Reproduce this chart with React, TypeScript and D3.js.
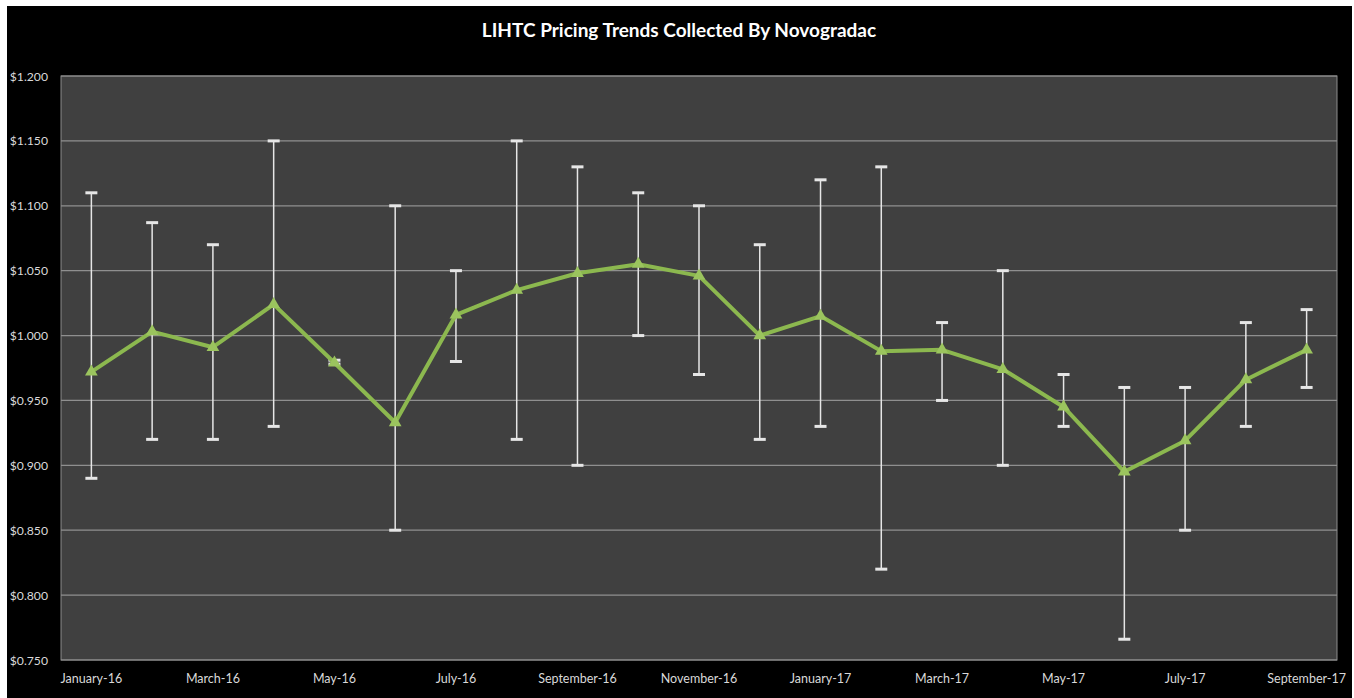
import React from "react";
import * as d3 from "d3";

// Monthly LIHTC pricing: average price per credit with the low/high range
const months = [
  "January-16", "February-16", "March-16", "April-16", "May-16", "June-16",
  "July-16", "August-16", "September-16", "October-16", "November-16", "December-16",
  "January-17", "February-17", "March-17", "April-17", "May-17", "June-17",
  "July-17", "August-17", "September-17",
];
const avgPrice = [
  0.972, 1.003, 0.991, 1.024, 0.979, 0.933,
  1.016, 1.035, 1.048, 1.055, 1.046, 1.0,
  1.015, 0.988, 0.989, 0.974, 0.945, 0.895,
  0.919, 0.966, 0.989,
];
const highPrice = [
  1.11, 1.087, 1.07, 1.15, 0.981, 1.1,
  1.05, 1.15, 1.13, 1.11, 1.1, 1.07,
  1.12, 1.13, 1.01, 1.05, 0.97, 0.96,
  0.96, 1.01, 1.02,
];
const lowPrice = [
  0.89, 0.92, 0.92, 0.93, 0.978, 0.85,
  0.98, 0.92, 0.9, 1.0, 0.97, 0.92,
  0.93, 0.82, 0.95, 0.9, 0.93, 0.766,
  0.85, 0.93, 0.96,
];
const yTicks = [0.75, 0.8, 0.85, 0.9, 0.95, 1.0, 1.05, 1.1, 1.15, 1.2];
const xLabelEvery = 2;
const title = "LIHTC Pricing Trends Collected By Novogradac";

const W = 1354;
const H = 698;
const plot = { left: 61, right: 1337, top: 76, bottom: 660 };
const FONT = "Lato, 'Open Sans', sans-serif";

export default function App() {
  const x = d3
    .scaleBand<string>()
    .domain(months)
    .range([plot.left, plot.right]);
  const y = d3
    .scaleLinear()
    .domain([0.75, 1.2])
    .range([plot.bottom, plot.top]);
  const cx = (m: string) => (x(m) ?? 0) + x.bandwidth() / 2;

  const line = d3
    .line<number>()
    .x((_, i) => cx(months[i]))
    .y((d) => y(d));

  const tri = d3.symbol().type(d3.symbolTriangle).size(70)() ?? "";
  const fmt = (v: number) => "$" + v.toFixed(3);
  const capHalf = 6;

  return (
    <svg
      width={W}
      height={H}
      style={{ position: "absolute", left: 0, top: 0, display: "block" }}
    >
      <rect x={0} y={0} width={W} height={H} fill="#ffffff" />
      <rect x={7} y={6} width={1345} height={H - 6} fill="#000000" />

      <text
        x={679}
        y={37}
        textAnchor="middle"
        fill="#ffffff"
        fontFamily={FONT}
        fontWeight={700}
        fontSize={19}
      >
        {title}
      </text>

      <rect
        x={plot.left}
        y={plot.top}
        width={plot.right - plot.left}
        height={plot.bottom - plot.top}
        fill="#404040"
        stroke="#8c8c8c"
        strokeWidth={1}
      />

      {yTicks.map((t) => (
        <g key={t}>
          <line
            x1={plot.left}
            x2={plot.right}
            y1={y(t)}
            y2={y(t)}
            stroke="#8f8f8f"
            strokeWidth={1.2}
          />
          <text
            x={48}
            y={y(t) + 4.5}
            textAnchor="end"
            fill="#d9d9d9"
            fontFamily={FONT}
            fontSize={12.2}
          >
            {fmt(t)}
          </text>
        </g>
      ))}

      {months.map((m, i) =>
        i % xLabelEvery === 0 ? (
          <text
            key={m}
            x={cx(m)}
            y={683}
            textAnchor="middle"
            fill="#d9d9d9"
            fontFamily={FONT}
            fontSize={12.5}
          >
            {m}
          </text>
        ) : null
      )}

      {/* low-high range bars */}
      {months.map((m, i) => (
        <g key={"e" + m} stroke="#e6e6e6">
          <line
            x1={cx(m)}
            x2={cx(m)}
            y1={y(highPrice[i])}
            y2={y(lowPrice[i])}
            strokeWidth={1.5}
          />
          <line
            x1={cx(m) - capHalf}
            x2={cx(m) + capHalf}
            y1={y(highPrice[i])}
            y2={y(highPrice[i])}
            strokeWidth={3}
          />
          <line
            x1={cx(m) - capHalf}
            x2={cx(m) + capHalf}
            y1={y(lowPrice[i])}
            y2={y(lowPrice[i])}
            strokeWidth={3}
          />
        </g>
      ))}

      <path
        d={line(avgPrice) ?? ""}
        fill="none"
        stroke="#8cb84f"
        strokeWidth={4}
        strokeLinejoin="round"
      />
      {avgPrice.map((v, i) => (
        <path
          key={"p" + i}
          d={tri}
          transform={`translate(${cx(months[i])},${y(v)})`}
          fill="#9bc45e"
        />
      ))}
    </svg>
  );
}
